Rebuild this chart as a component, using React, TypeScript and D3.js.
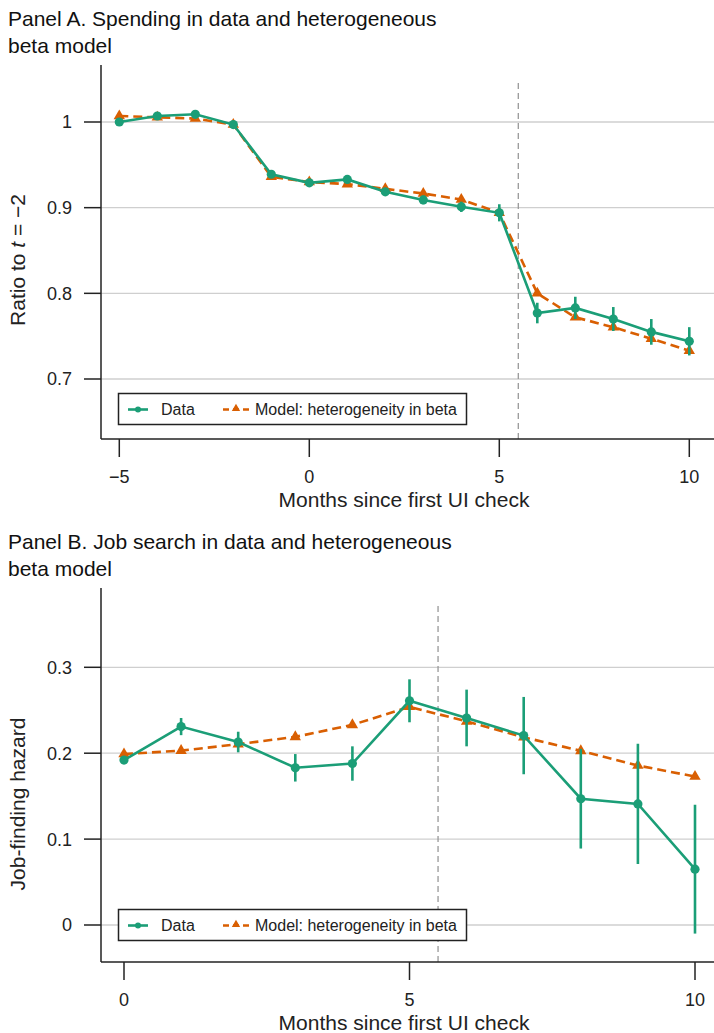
import React from 'react';
import * as d3 from 'd3';

// Panel A: spending, months -5..10
const monthsA = [-5, -4, -3, -2, -1, 0, 1, 2, 3, 4, 5, 6, 7, 8, 9, 10];
const dataA = [1.0, 1.007, 1.009, 0.997, 0.939, 0.929, 0.933, 0.9185, 0.909, 0.901, 0.894, 0.777, 0.783, 0.77, 0.755, 0.744];
const errA = [0.002, 0.002, 0.002, 0, 0.003, 0.003, 0.003, 0.004, 0.005, 0.006, 0.01, 0.012, 0.013, 0.014, 0.015, 0.0165];
const modelA = [1.007, 1.0055, 1.004, 0.997, 0.936, 0.93, 0.9275, 0.922, 0.9165, 0.9095, 0.894, 0.8, 0.772, 0.7605, 0.747, 0.733];
const xTicksA = [-5, 0, 5, 10];
const yTicksA = [0.7, 0.8, 0.9, 1];

// Panel B: job-finding hazard, months 0..10
const monthsB = [0, 1, 2, 3, 4, 5, 6, 7, 8, 9, 10];
const dataB = [0.192, 0.231, 0.213, 0.183, 0.188, 0.261, 0.241, 0.2205, 0.147, 0.141, 0.065];
const errB = [0.004, 0.01, 0.012, 0.016, 0.02, 0.025, 0.033, 0.045, 0.058, 0.07, 0.075];
const modelB = [0.199, 0.203, 0.2105, 0.219, 0.233, 0.254, 0.237, 0.2186, 0.2027, 0.1856, 0.1728];
const xTicksB = [0, 5, 10];
const yTicksB = [0, 0.1, 0.2, 0.3];

const GREEN = '#1b9e77';
const ORANGE = '#d95f02';
const AXIS = '#222';
const FONT = '"Liberation Sans", Arial, Helvetica, sans-serif';

const fmt = (v: number) => (v < 0 ? '\u2212' + Math.abs(v) : String(v));

type PanelProps = {
  top: number;
  title: string[];
  yLabel: React.ReactNode;
  yLabelY: number;
  months: number[];
  data: number[];
  err: number[];
  model: number[];
  xDomain: [number, number];
  xRange: [number, number];
  yDomain: [number, number];
  yRange: [number, number];
  xTicks: number[];
  yTicks: number[];
  legendY: number;
};

const Panel = (p: PanelProps) => {
  const left = 101;
  const right = 714;
  const axisTop = p.top;
  const axisBottom = p.top + 374;
  const x = d3.scaleLinear().domain(p.xDomain).range(p.xRange);
  const y = d3.scaleLinear().domain(p.yDomain).range(p.yRange);
  const pts = p.months.map((m, i) => ({ m, d: p.data[i], e: p.err[i], mo: p.model[i] }));
  const dataLine = d3.line<any>().x(d => x(d.m)).y(d => y(d.d))(pts) || '';
  const modelLine = d3.line<any>().x(d => x(d.m)).y(d => y(d.mo))(pts) || '';
  const tri = d3.symbol().type(d3.symbolTriangle).size(56)() || '';
  const triSmall = d3.symbol().type(d3.symbolTriangle).size(30)() || '';
  const ly = p.legendY;

  return (
    <g fontFamily={FONT}>
      {p.title.map((t, i) => (
        <text key={i} x={8} y={p.top - 39 + i * 27} fontSize={21} fill="#111">{t}</text>
      ))}
      {/* grid */}
      {p.yTicks.map(t => (
        <line key={t} x1={left} x2={right} y1={y(t)} y2={y(t)} stroke="#cfcfcf" strokeWidth={1.3} />
      ))}
      {/* vertical reference line */}
      <line x1={x(5.5)} x2={x(5.5)} y1={axisTop + 18} y2={axisBottom} stroke="#999" strokeWidth={1.3} strokeDasharray="6,4" />
      {/* axes */}
      <line x1={left} x2={left} y1={axisTop} y2={axisBottom} stroke={AXIS} strokeWidth={1.5} />
      <line x1={left} x2={right} y1={axisBottom} y2={axisBottom} stroke={AXIS} strokeWidth={1.5} />
      {p.yTicks.map(t => (
        <g key={t}>
          <line x1={left - 17} x2={left} y1={y(t)} y2={y(t)} stroke={AXIS} strokeWidth={1.5} />
          <text x={72} y={y(t)} dy="0.36em" textAnchor="end" fontSize={18} fill="#222">{fmt(t)}</text>
        </g>
      ))}
      {p.xTicks.map(t => (
        <g key={t}>
          <line x1={x(t)} x2={x(t)} y1={axisBottom} y2={axisBottom + 18} stroke={AXIS} strokeWidth={1.5} />
          <text x={x(t)} y={axisBottom + 44} textAnchor="middle" fontSize={18} fill="#222">{fmt(t)}</text>
        </g>
      ))}
      <text x={404} y={axisBottom + 68} textAnchor="middle" fontSize={21} fill="#222">
        Months since first UI check
      </text>
      <text transform={`translate(25,${p.yLabelY}) rotate(-90)`} textAnchor="middle" fontSize={21} fill="#222">
        {p.yLabel}
      </text>
      {/* model series */}
      <path d={modelLine} fill="none" stroke={ORANGE} strokeWidth={2.6} strokeDasharray="9,5" />
      {pts.map(d => (
        <path key={'t' + d.m} d={tri} transform={`translate(${x(d.m)},${y(d.mo)})`} fill={ORANGE} />
      ))}
      {/* data series */}
      {pts.filter(d => d.e > 0).map(d => (
        <line key={'e' + d.m} x1={x(d.m)} x2={x(d.m)} y1={y(d.d - d.e)} y2={y(d.d + d.e)} stroke={GREEN} strokeWidth={2.6} />
      ))}
      <path d={dataLine} fill="none" stroke={GREEN} strokeWidth={2.6} />
      {pts.map(d => (
        <circle key={'c' + d.m} cx={x(d.m)} cy={y(d.d)} r={4.6} fill={GREEN} />
      ))}
      {/* legend */}
      <rect x={118.5} y={ly} width={348} height={31} fill="#fff" stroke="#222" strokeWidth={1.5} />
      <line x1={128} x2={148} y1={ly + 16} y2={ly + 16} stroke={GREEN} strokeWidth={2.6} />
      <circle cx={138} cy={ly + 16} r={3} fill={GREEN} />
      <text x={161} y={ly + 16} dy="0.36em" fontSize={16} fill="#222">Data</text>
      <line x1={223} x2={249} y1={ly + 16} y2={ly + 16} stroke={ORANGE} strokeWidth={2.6} strokeDasharray="6,4" />
      <path d={triSmall} transform={`translate(236,${ly + 15})`} fill={ORANGE} />
      <text x={255} y={ly + 16} dy="0.36em" fontSize={16} fill="#222">Model: heterogeneity in beta</text>
    </g>
  );
};

export default function App() {
  return (
    <div style={{ position: 'absolute', left: 0, top: 0 }}>
      <svg width={714} height={1033} style={{ display: 'block' }}>
        <rect width={714} height={1033} fill="#fff" />
        <Panel
          top={65}
          title={['Panel A. Spending in data and heterogeneous', 'beta model']}
          yLabel={<>Ratio to <tspan fontStyle="italic">t</tspan> = {'\u2212'}2</>}
          yLabelY={260}
          months={monthsA}
          data={dataA}
          err={errA}
          model={modelA}
          xDomain={[-5, 10]}
          xRange={[119.3, 689.3]}
          yDomain={[0.7, 1]}
          yRange={[379, 122]}
          xTicks={xTicksA}
          yTicks={yTicksA}
          legendY={393.5}
        />
        <Panel
          top={588}
          title={['Panel B. Job search in data and heterogeneous', 'beta model']}
          yLabel="Job-finding hazard"
          yLabelY={804}
          months={monthsB}
          data={dataB}
          err={errB}
          model={modelB}
          xDomain={[0, 10]}
          xRange={[124, 695]}
          yDomain={[0, 0.3]}
          yRange={[925, 667.3]}
          xTicks={xTicksB}
          yTicks={yTicksB}
          legendY={909.5}
        />
      </svg>
    </div>
  );
}
